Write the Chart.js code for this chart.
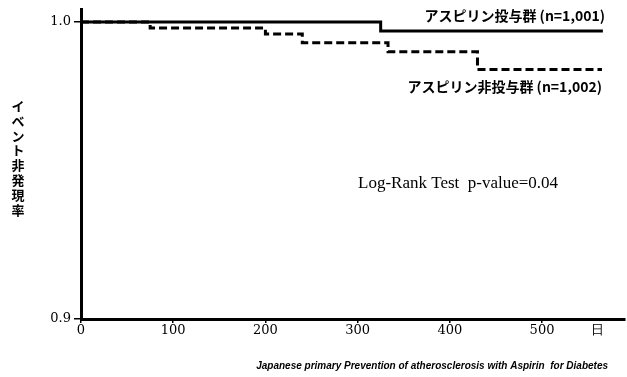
<!DOCTYPE html>
<html>
<head>
<meta charset="utf-8">
<script src="https://cdn.jsdelivr.net/npm/chart.js@4/dist/chart.umd.min.js"></script>
<style>
  html, body { margin: 0; padding: 0; background: #fff; }
  canvas { display: block; }
</style>
</head>
<body>
<canvas id="km" width="627" height="377"></canvas>
<script>
// Kaplan–Meier event-free curves (days vs. event-free rate)
const aspirinDays   = [0, 325, 566];
const aspirinRate   = [1.0, 0.997, 0.997];
const controlDays   = [0, 75, 200, 240, 333, 430, 565];
const controlRate   = [1.0, 0.998, 0.996, 0.993, 0.990, 0.984, 0.984];

const aspirinLabel  = 'アスピリン投与群 (n=1,001)';
const controlLabel  = 'アスピリン非投与群 (n=1,002)';
const yTitle        = 'イベント非発現率';
const statText      = 'Log-Rank Test  p-value=0.04';
const caption       = 'Japanese primary Prevention of atherosclerosis with Aspirin  for Diabetes';

const xTickValues   = [0, 100, 200, 300, 400, 500];
const xUnitAt       = 560;
const xUnitLabel    = '日';
const yTickValues   = [0.9, 1.0];

const toPoints = (xs, ys) => xs.map((x, i) => ({ x, y: ys[i] }));

const tickFont = { family: '"DejaVu Serif", "Liberation Serif", serif', size: 13 };
const jpFont = '"Noto Sans CJK JP", "Noto Sans", sans-serif';

// Annotation texts, vertical axis title and footer caption
const textPlugin = {
  id: 'kmText',
  afterDraw(chart) {
    const { ctx } = chart;
    ctx.save();
    ctx.fillStyle = '#000';

    // series labels
    ctx.font = 'bold 14px ' + jpFont;
    ctx.textBaseline = 'middle';
    ctx.textAlign = 'right';
    ctx.fillText(aspirinLabel, 605, 16);
    ctx.fillText(controlLabel, 602, 87);

    // log-rank statistic
    ctx.font = '17px "Liberation Serif", "Times New Roman", serif';
    ctx.textAlign = 'left';
    ctx.fillText(statText, 358, 184);

    // vertical y-axis title, one upright character per row
    ctx.font = 'bold 13px ' + jpFont;
    ctx.textAlign = 'center';
    const chars = Array.from(yTitle);
    chars.forEach((c, i) => ctx.fillText(c, 18, 106 + i * 14.8));

    // footer caption
    ctx.font = 'italic bold 10px "Liberation Sans", Arial, sans-serif';
    ctx.textAlign = 'right';
    ctx.fillText(caption, 608, 366);
    ctx.restore();
  }
};

new Chart(document.getElementById('km'), {
  type: 'line',
  data: {
    datasets: [
      {
        label: aspirinLabel,
        data: toPoints(aspirinDays, aspirinRate),
        stepped: 'before',
        borderColor: '#000',
        borderWidth: 3,
        pointRadius: 0,
        fill: false
      },
      {
        label: controlLabel,
        data: toPoints(controlDays, controlRate),
        stepped: 'before',
        borderColor: '#000',
        borderWidth: 3,
        borderDash: [8, 4],
        pointRadius: 0,
        fill: false
      }
    ]
  },
  options: {
    responsive: false,
    animation: false,
    events: [],
    layout: { padding: { top: 9, right: 2, left: 0, bottom: 0 } },
    plugins: {
      legend: { display: false },
      tooltip: { enabled: false },
      title: { display: false }
    },
    scales: {
      x: {
        type: 'linear',
        min: 0,
        max: 590,
        afterFit(scale) {
          scale.height = 58;
          scale.paddingLeft = 0;
          scale.paddingRight = 0;
        },
        afterBuildTicks(scale) {
          scale.ticks = xTickValues.concat([xUnitAt]).map(v => ({ value: v }));
        },
        ticks: {
          color: '#000',
          font: tickFont,
          padding: 0,
          maxRotation: 0,
          autoSkip: false,
          callback: v => (v === xUnitAt ? xUnitLabel : String(v))
        },
        grid: {
          drawOnChartArea: false,
          drawTicks: true,
          tickLength: 4,
          lineWidth: 1.5,
          tickColor: c => (c.tick && c.tick.value === xUnitAt ? 'rgba(0,0,0,0)' : '#000')
        },
        border: { display: true, color: '#000', width: 3 }
      },
      y: {
        type: 'linear',
        min: 0.9,
        max: 1.0044,
        afterFit(scale) {
          scale.width = 81;
          scale.paddingTop = 0;
          scale.paddingBottom = 0;
        },
        afterBuildTicks(scale) {
          scale.ticks = yTickValues.map(v => ({ value: v }));
        },
        ticks: {
          color: '#000',
          font: tickFont,
          padding: 3,
          callback: v => v.toFixed(1)
        },
        grid: {
          drawOnChartArea: false,
          drawTicks: true,
          tickLength: 7,
          lineWidth: 1.5,
          tickColor: '#000'
        },
        border: { display: true, color: '#000', width: 3 }
      }
    }
  },
  plugins: [textPlugin]
});
</script>
</body>
</html>
